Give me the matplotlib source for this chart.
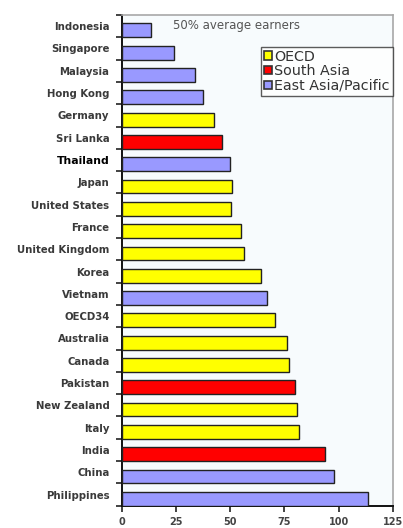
import matplotlib
matplotlib.use("Agg")
import matplotlib.pyplot as plt
from matplotlib.patches import Patch
import numpy as np

# Countries listed top to bottom, with the group each one belongs to
countries = ["Indonesia", "Singapore", "Malaysia", "Hong Kong", "Germany", "Sri Lanka",
             "Thailand", "Japan", "United States", "France", "United Kingdom", "Korea",
             "Vietnam", "OECD34", "Australia", "Canada", "Pakistan", "New Zealand",
             "Italy", "India", "China", "Philippines"]
values = [13.2, 24.0, 33.6, 37.3, 42.6, 46.1, 49.8, 50.6, 50.3, 54.8, 56.4, 64.0,
          66.8, 70.8, 76.0, 77.2, 80.1, 80.8, 81.7, 93.7, 97.7, 113.4]
groups = ["EAP", "EAP", "EAP", "EAP", "OECD", "SA", "EAP", "OECD", "OECD", "OECD",
          "OECD", "OECD", "EAP", "OECD", "OECD", "OECD", "SA", "OECD", "OECD", "SA",
          "EAP", "EAP"]
group_names = ["OECD", "South Asia", "East Asia/Pacific"]
group_keys = ["OECD", "SA", "EAP"]
x_ticks = [0, 25, 50, 75, 100, 125]

colors = {"OECD": "#ffff00", "SA": "#ff0000", "EAP": "#9999ff"}

fig = plt.figure(figsize=(4.03, 5.28), dpi=100)
fig.patch.set_facecolor("white")
ax = fig.add_axes([0.3027, 0.0422, 0.6718, 0.9294])
ax.set_facecolor("#f7fbfd")

n = len(countries)
pos = np.arange(n)
bar_h = 0.62
ax.barh(pos + 0.5 - bar_h / 2, values, height=bar_h,
        color=[colors[g] for g in groups], edgecolor="#222222", linewidth=1.0, zorder=3)

ax.set_ylim(n - 0.5, -0.5)
ax.set_xlim(0, 125)

# Category labels at slot centres, tick marks at slot boundaries
ax.set_yticks(pos)
ax.set_yticklabels(countries)
ax.tick_params(axis="y", which="major", length=0, pad=9)
ax.set_yticks(np.arange(n + 1) - 0.5, minor=True)
ax.tick_params(axis="y", which="minor", length=4, width=1.2, color="#222222", direction="out")
for lbl in ax.get_yticklabels():
    lbl.set_fontfamily("DejaVu Sans")
    lbl.set_fontweight("bold")
    lbl.set_fontsize(7.3)
    lbl.set_color("#3a3a3a")
    if lbl.get_text() == "Thailand":
        lbl.set_color("#000000")
        lbl.set_fontsize(7.8)

ax.set_xticks(x_ticks)
ax.set_xticklabels([str(t) for t in x_ticks])
ax.tick_params(axis="x", length=4, width=1.2, color="#222222", direction="out", pad=4,
               labelsize=7, labelcolor="#444444")
for lbl in ax.get_xticklabels():
    lbl.set_fontweight("bold")

for side in ("left", "bottom"):
    ax.spines[side].set_color("#111111")
    ax.spines[side].set_linewidth(1.4)
for side in ("top", "right"):
    ax.spines[side].set_color("#a8a8a8")
    ax.spines[side].set_linewidth(1.2)

ax.text(0.19, 0.979, "50% average earners", transform=ax.transAxes,
        fontsize=8.5, color="#555555", family="DejaVu Sans", va="center", ha="left")

handles = [Patch(facecolor=colors[k], edgecolor="#333333", linewidth=1.2) for k in group_keys]
leg = ax.legend(handles, group_names, loc="upper right", bbox_to_anchor=(1.0, 0.9355),
                prop={"family": "DejaVu Sans", "size": 10.3}, frameon=True, fancybox=False,
                handlelength=0.55, handleheight=0.55, handletextpad=0.2,
                labelspacing=0.05, borderpad=0.2, borderaxespad=0.0)
leg.get_frame().set_edgecolor("#333333")
leg.get_frame().set_linewidth(1.0)
leg.get_frame().set_facecolor("white")
for t in leg.get_texts():
    t.set_color("#333333")

fig.savefig("out.png", dpi=100)
